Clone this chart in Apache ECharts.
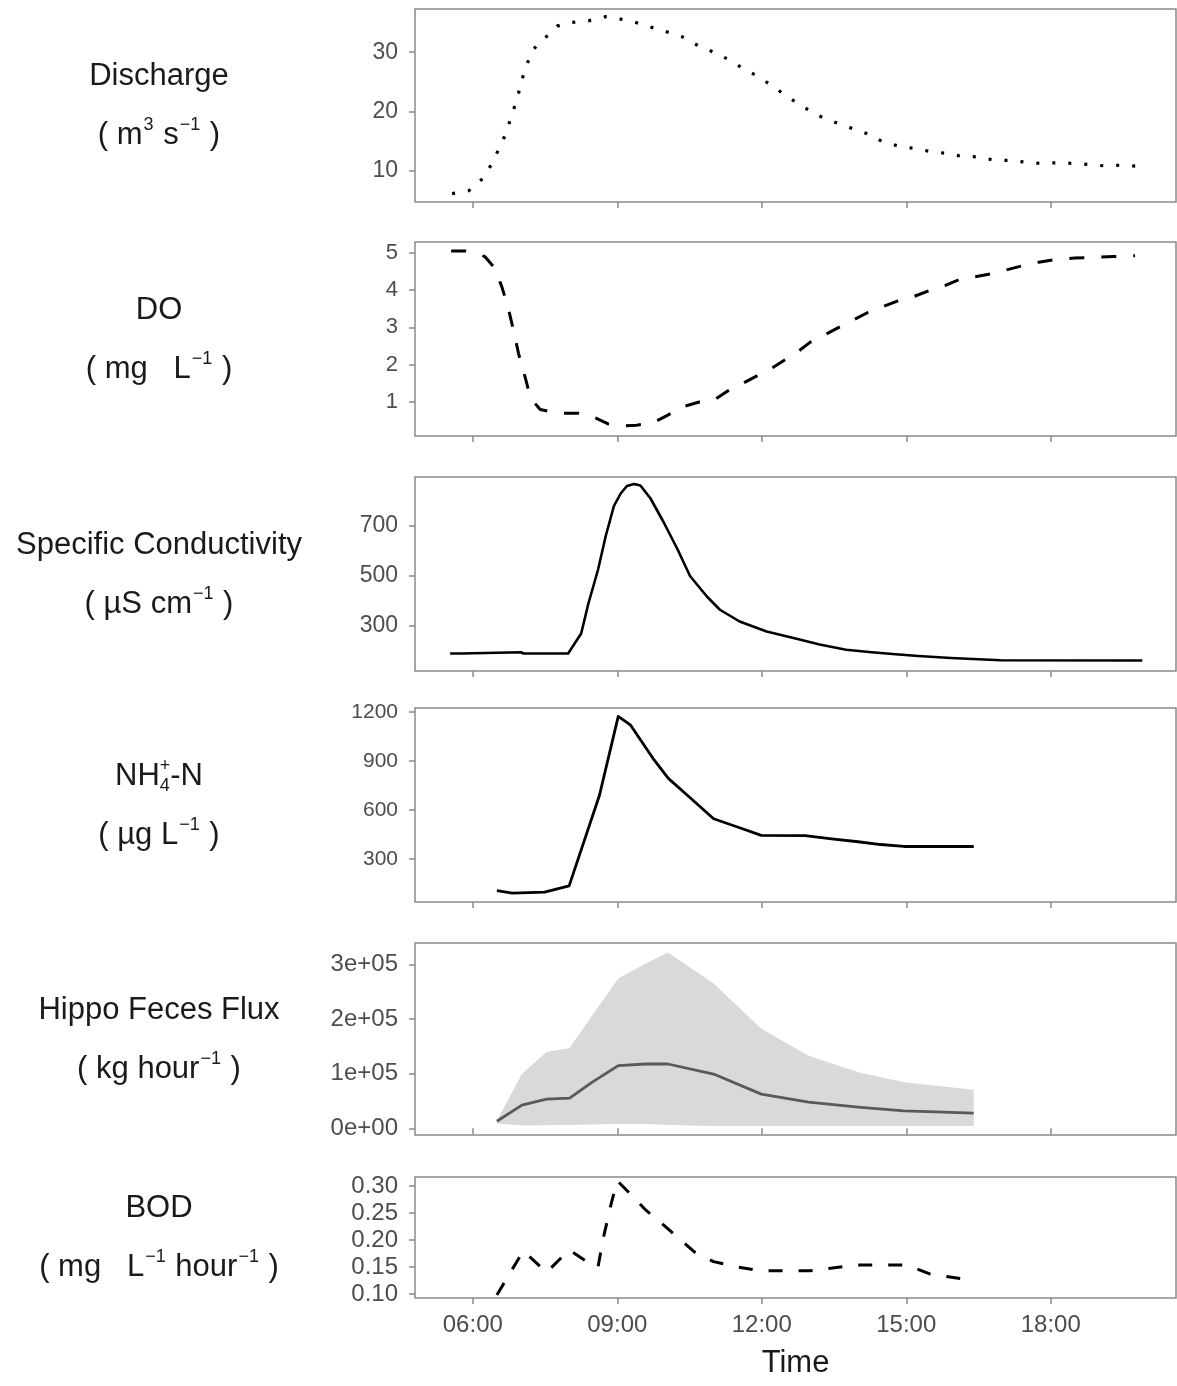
<!DOCTYPE html>
<html>
<head>
<meta charset="utf-8">
<script src="https://cdn.jsdelivr.net/npm/echarts@6/dist/echarts.min.js"></script>
<style>
  html, body { margin: 0; padding: 0; background: #fff; }
  #chart { width: 1177px; height: 1386px; }
</style>
</head>
<body>
<div id="chart"></div>
<script>
// time in decimal hours
const timeTicks = [6, 9, 12, 15, 18];

const dischargeTime = [5.57, 5.92, 6.2, 6.4, 6.55, 6.7, 6.8, 6.93, 7.0, 7.22, 7.5, 7.75, 8.0, 8.4, 8.75, 9.0, 9.35, 9.67, 10.0, 10.35, 10.7, 11.0, 11.3, 11.6, 11.9, 12.2, 12.55, 12.85, 13.2, 13.5, 13.85, 14.2, 14.5, 14.85, 15.2, 15.5, 15.85, 16.15, 16.5, 16.8, 17.15, 17.5, 17.8, 18.1, 18.5, 18.8, 19.1, 19.45, 19.85];
const dischargeVal = [6.1, 6.6, 8.6, 11.2, 13.8, 16.5, 19.2, 22.3, 24.9, 30.2, 32.4, 34.4, 35.0, 35.3, 36.0, 35.7, 35.1, 34.3, 33.5, 32.6, 31.0, 30.0, 28.8, 27.3, 26.0, 24.4, 22.4, 20.8, 19.2, 18.2, 17.2, 16.2, 14.9, 14.1, 13.7, 13.2, 12.9, 12.4, 12.3, 11.8, 11.7, 11.4, 11.2, 11.3, 11.2, 11.0, 10.8, 10.9, 10.7];
const dischargeTicks = [10, 20, 30];

const doTime = [5.55, 5.85, 6.05, 6.25, 6.45, 6.6, 6.72, 6.85, 6.95, 7.1, 7.2, 7.4, 7.75, 8.2, 8.5, 8.8, 9.1, 9.4, 9.75, 10.05, 10.3, 10.7, 11.0, 11.3, 11.6, 11.9, 12.2, 12.5, 12.75, 13.0, 13.3, 13.6, 13.9, 14.2, 14.5, 14.8, 15.1, 15.5, 15.8, 16.1, 16.4, 16.8, 17.1, 17.4, 17.75, 18.1, 18.5, 18.9, 19.3, 19.75];
const doVal = [5.05, 5.05, 5.0, 4.9, 4.6, 4.1, 3.6, 2.9, 2.3, 1.6, 1.1, 0.8, 0.7, 0.7, 0.6, 0.42, 0.36, 0.38, 0.45, 0.65, 0.85, 1.0, 1.05, 1.3, 1.5, 1.7, 1.9, 2.15, 2.35, 2.6, 2.8, 3.0, 3.2, 3.4, 3.55, 3.7, 3.8, 4.0, 4.12, 4.28, 4.35, 4.45, 4.55, 4.65, 4.75, 4.82, 4.86, 4.88, 4.9, 4.92];
const doTicks = [1, 2, 3, 4, 5];

const scTime = [5.53, 5.77, 5.8, 7.0, 7.05, 7.98, 8.25, 8.4, 8.6, 8.76, 8.93, 9.07, 9.2, 9.35, 9.48, 9.69, 9.96, 10.25, 10.51, 10.86, 11.13, 11.54, 12.1, 12.7, 13.2, 13.75, 14.28, 14.78, 15.25, 15.93, 16.96, 19.9];
const scVal = [190, 190, 195, 195, 190, 190, 270, 390, 525, 660, 780, 830, 860, 868, 862, 810, 716, 607, 500, 418, 365, 318, 278, 250, 226, 205, 195, 187, 180, 172, 163, 162];
const scTicks = [300, 500, 700];

const nhTime = [6.5, 6.82, 7.49, 8.0, 8.63, 9.02, 9.27, 9.74, 10.06, 10.53, 11.0, 11.48, 11.99, 12.9, 13.45, 14.0, 14.47, 14.95, 16.4];
const nhVal = [105, 90, 97, 135, 690, 1173, 1121, 916, 793, 670, 546, 497, 444, 442, 423, 405, 388, 376, 376];
const nhTicks = [300, 600, 900, 1200];

const hippoTime = [6.5, 7.02, 7.53, 8.01, 8.48, 9.02, 9.59, 10.05, 11.0, 11.99, 12.97, 14.0, 14.95, 16.4];
const hippoMean = [12900, 42400, 53400, 55200, 84700, 114700, 117800, 117800, 99400, 62600, 47900, 38700, 31900, 27600];
const hippoUpper = [14000, 99400, 140000, 147300, 206800, 274400, 302000, 322300, 265200, 182300, 133100, 102500, 84200, 70500];
const hippoLower = [9000, 5000, 5500, 6000, 7000, 8000, 8000, 6000, 4000, 4000, 4000, 4000, 4000, 4000];
const hippoTicks = [0, 100000, 200000, 300000];
const hippoTickLabels = ['0e+00', '1e+05', '2e+05', '3e+05'];

const bodTime = [6.5, 7.05, 7.53, 8.0, 8.5, 8.6, 8.7, 8.88, 9.0, 9.3, 9.6, 10.0, 10.6, 11.0, 11.5, 12.0, 13.0, 14.0, 15.0, 15.5, 16.4];
const bodVal = [0.098, 0.18, 0.14, 0.182, 0.152, 0.15, 0.2, 0.27, 0.31, 0.283, 0.255, 0.225, 0.178, 0.16, 0.15, 0.143, 0.143, 0.154, 0.154, 0.137, 0.125];
const bodTicks = [0.10, 0.15, 0.20, 0.25, 0.30];

const pairs = (t, v) => t.map((x, i) => [x, v[i]]);

const FONT = '"Liberation Sans", Arial, sans-serif';
const GREY = '#4d4d4d';
const INK = '#1a1a1a';
const BORDER = '#8a8a8a';
const TITLE_SIZE = 31;
const LABEL_X = 159;

const panels = [
    { top: 9, height: 193, min: 4.68, max: 37.3, ticks: dischargeTicks, fs: 23 },
    { top: 242, height: 194, min: 0.09, max: 5.29, ticks: doTicks, fs: 22 },
    { top: 477, height: 194, min: 120, max: 896, ticks: scTicks, fs: 23 },
    { top: 708, height: 194, min: 36, max: 1224, ticks: nhTicks, fs: 21 },
    { top: 943, height: 192, min: -12300, max: 339500, ticks: hippoTicks, fs: 24,
      fmt: v => hippoTickLabels[hippoTicks.indexOf(v)] },
    { top: 1177, height: 121, min: 0.0926, max: 0.317, ticks: bodTicks, fs: 24,
      fmt: v => v.toFixed(2) }
];

const labels = [
    ['Discharge', '( m{sup|3} s{sup|−1} )'],
    ['DO', '( mg   L{sup|−1} )'],
    ['Specific Conductivity', '( µS cm{sup|−1} )'],
    null, // NH4+-N drawn as a small group below
    ['Hippo Feces Flux', '( kg hour{sup|−1} )'],
    ['BOD', '( mg   L{sup|−1} hour{sup|−1} )']
];
const nhUnit = '( µg L{sup|−1} )';

const fmtTime = v => (v < 10 ? '0' : '') + v + ':00';

const chart = echarts.init(document.getElementById('chart'));

const grid = panels.map(p => ({
    left: 415, right: 1, top: p.top, height: p.height,
    show: true, borderColor: BORDER, borderWidth: 1.5, backgroundColor: 'transparent'
}));

const xAxis = panels.map((p, i) => ({
    type: 'value', gridIndex: i, min: 4.8, max: 20.6,
    axisLine: { show: false },
    axisTick: { show: true, customValues: timeTicks, length: 6, lineStyle: { color: BORDER, width: 1.5 } },
    axisLabel: { show: i === 5, customValues: timeTicks, formatter: fmtTime, color: GREY, fontSize: 24, fontFamily: FONT, margin: 15 },
    splitLine: { show: false },
    name: i === 5 ? 'Time' : '',
    nameLocation: 'middle', nameGap: 50,
    nameTextStyle: { fontSize: 31, color: INK, fontFamily: FONT }
}));

const yAxis = panels.map((p, i) => ({
    type: 'value', gridIndex: i, min: p.min, max: p.max,
    axisLine: { show: false },
    axisTick: { show: true, customValues: p.ticks, length: 6, lineStyle: { color: BORDER, width: 1.5 } },
    axisLabel: { customValues: p.ticks, formatter: p.fmt || (v => String(v)), color: GREY, fontSize: p.fs, fontFamily: FONT, margin: 17 },
    splitLine: { show: false }
}));

const lineBase = (i, data, style) => ({
    type: 'line', xAxisIndex: i, yAxisIndex: i, data,
    showSymbol: false, symbol: 'none', smooth: false, animation: false,
    lineStyle: Object.assign({ color: '#000', cap: 'butt', join: 'round' }, style)
});

const bandData = hippoTime.map((t, i) => [t, hippoLower[i], hippoUpper[i]]);

const series = [
    lineBase(0, pairs(dischargeTime, dischargeVal), { width: 3.2, type: [3, 13] }),
    lineBase(1, pairs(doTime, doVal), { width: 3, type: [15, 17] }),
    lineBase(2, pairs(scTime, scVal), { width: 2.6 }),
    lineBase(3, pairs(nhTime, nhVal), { width: 2.8 }),
    {
        type: 'custom', xAxisIndex: 4, yAxisIndex: 4, data: bandData, animation: false,
        encode: { x: 0, y: [1, 2] },
        renderItem: function (params, api) {
            if (params.dataIndex !== 0) return null;
            const top = bandData.map(d => api.coord([d[0], d[2]]));
            const bot = bandData.map(d => api.coord([d[0], d[1]])).reverse();
            return { type: 'polygon', shape: { points: top.concat(bot) }, style: { fill: '#d9d9d9' } };
        }
    },
    Object.assign(lineBase(4, pairs(hippoTime, hippoMean), { width: 2.8, color: '#595959' }), { z: 3 }),
    lineBase(5, pairs(bodTime, bodVal), { width: 3, type: [14, 16] })
];

const rich = {
    sup: { fontSize: 18, fontFamily: FONT, color: INK, verticalAlign: 'top', lineHeight: 22, padding: [0, 1, 0, 1] }
};

const titleText = (x, y, text) => ({
    type: 'text', x, y,
    style: { text, rich, font: TITLE_SIZE + 'px ' + FONT, fill: INK, align: 'center', verticalAlign: 'middle', lineHeight: 38 }
});

const graphic = [];
panels.forEach((p, i) => {
    const c = p.top + p.height / 2;
    if (labels[i]) {
        graphic.push(titleText(LABEL_X, c - 29, labels[i][0]));
        graphic.push(titleText(LABEL_X, c + 30, labels[i][1]));
    } else {
        // NH4+-N : subscript 4 and superscript + stacked in one column
        const ctx = document.createElement('canvas').getContext('2d');
        ctx.font = TITLE_SIZE + 'px ' + FONT;
        const wNH = ctx.measureText('NH').width;
        const wN = ctx.measureText('-N').width;
        ctx.font = '18px ' + FONT;
        const wS = Math.max(ctx.measureText('4').width, ctx.measureText('+').width);
        const x0 = LABEL_X - (wNH + wS + wN) / 2;
        const y = c - 29;
        const big = { font: TITLE_SIZE + 'px ' + FONT, fill: INK, verticalAlign: 'middle' };
        const small = { font: '18px ' + FONT, fill: INK, verticalAlign: 'middle' };
        graphic.push({ type: 'text', x: x0, y, style: Object.assign({ text: 'NH', align: 'left' }, big) });
        graphic.push({ type: 'text', x: x0 + wNH, y: y - 10, style: Object.assign({ text: '+', align: 'left' }, small) });
        graphic.push({ type: 'text', x: x0 + wNH, y: y + 10, style: Object.assign({ text: '4', align: 'left' }, small) });
        graphic.push({ type: 'text', x: x0 + wNH + wS, y, style: Object.assign({ text: '-N', align: 'left' }, big) });
        graphic.push(titleText(LABEL_X, c + 30, nhUnit));
    }
});

chart.setOption({
    backgroundColor: '#fff',
    animation: false,
    grid, xAxis, yAxis, series, graphic
});
</script>
</body>
</html>
